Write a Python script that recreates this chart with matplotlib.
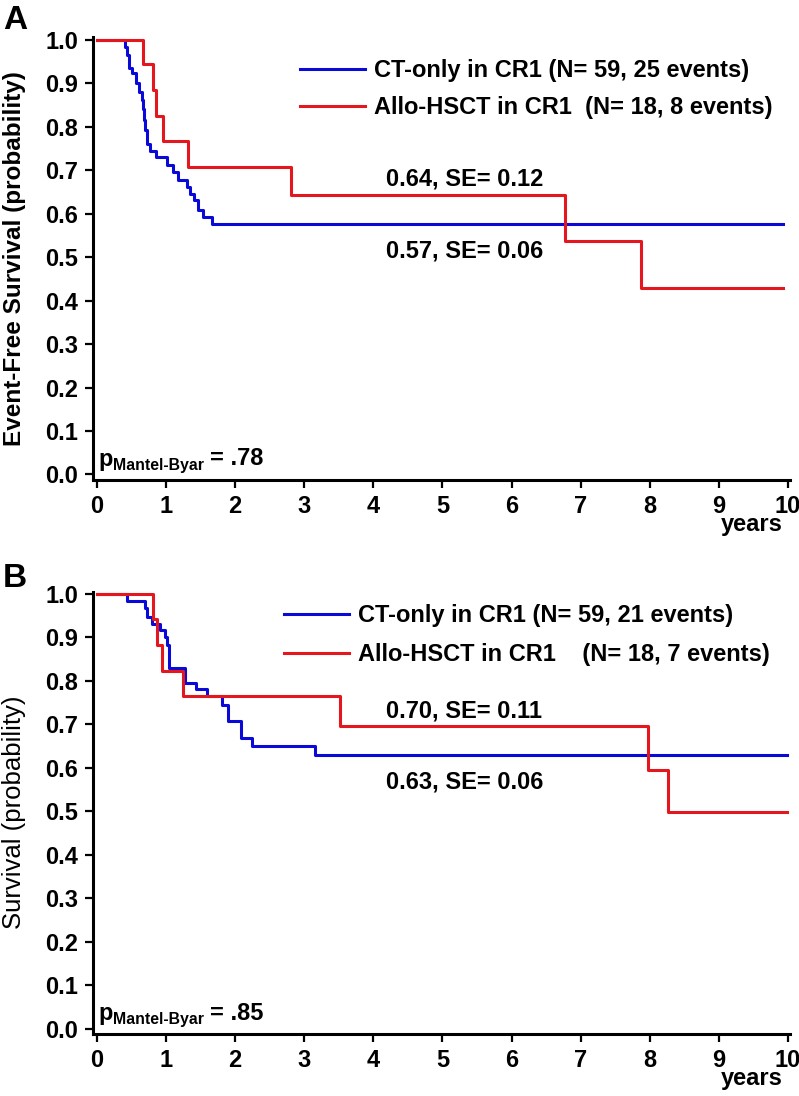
import numpy as np
import matplotlib
matplotlib.use('Agg')
import matplotlib.pyplot as plt

plt.rcParams['font.family'] = ['Liberation Sans', 'DejaVu Sans']

BLUE = '#0a0ad8'
RED = '#e3171d'

# Panel A: event-free survival
a_ct_t = [0.40, 0.43, 0.47, 0.50, 0.565, 0.61, 0.645, 0.665, 0.685, 0.70, 0.73,
          0.77, 0.86, 1.02, 1.10, 1.17, 1.30, 1.34, 1.40, 1.46, 1.54, 1.67]
a_ct_s = [0.983, 0.964, 0.934, 0.922, 0.90, 0.88, 0.862, 0.84, 0.815, 0.792, 0.761,
          0.744, 0.729, 0.711, 0.696, 0.677, 0.662, 0.646, 0.631, 0.608, 0.593, 0.575]
a_allo_t = [0.66, 0.81, 0.85, 0.95, 1.32, 2.81, 6.78, 7.87]
a_allo_s = [0.943, 0.885, 0.825, 0.767, 0.708, 0.643, 0.536, 0.429]
a_end = 9.93

# Panel B: overall survival
b_ct_t = [0.43, 0.695, 0.73, 0.79, 0.91, 0.98, 1.02, 1.045, 1.27, 1.44, 1.59,
          1.81, 1.89, 2.09, 2.24, 3.15]
b_ct_s = [0.983, 0.966, 0.947, 0.930, 0.917, 0.90, 0.882, 0.83, 0.795, 0.78, 0.764,
          0.744, 0.708, 0.668, 0.65, 0.629]
b_allo_t = [0.81, 0.87, 0.94, 1.24, 3.52, 7.98, 8.27]
b_allo_s = [0.942, 0.882, 0.822, 0.765, 0.695, 0.595, 0.497]
b_end = 9.99

panels = [
    dict(letter='A', ylabel='Event-Free Survival (probability)', ylabel_weight='bold',
         ylabel_size=17.5,
         ct=(a_ct_t, a_ct_s), allo=(a_allo_t, a_allo_s), end=a_end,
         ct_label='CT-only in CR1 (N= 59, 25 events)',
         allo_label='Allo-HSCT in CR1  (N= 18, 8 events)',
         ann=[(4.18, 0.679, '0.64, SE= 0.12'), (4.18, 0.514, '0.57, SE= 0.06')],
         p='= .78', leg=(0.297, 0.950), spacing=0.58, bottom=0.5623, let_y=0.981),
    dict(letter='B', ylabel='Survival (probability)', ylabel_weight='normal',
         ylabel_size=18.5,
         ct=(b_ct_t, b_ct_s), allo=(b_allo_t, b_allo_s), end=b_end,
         ct_label='CT-only in CR1 (N= 59, 21 events)',
         allo_label='Allo-HSCT in CR1    (N= 18, 7 events)',
         ann=[(4.19, 0.730, '0.70, SE= 0.11'), (4.19, 0.568, '0.63, SE= 0.06')],
         p='= .85', leg=(0.274, 0.971), spacing=0.68, bottom=0.0567, let_y=0.4726),
]

fig = plt.figure(figsize=(7.99, 10.96), dpi=100)

for pn in panels:
    ax = fig.add_axes([0.1166, pn['bottom'], 0.8722, 0.4036])
    for (t, s), col, lab in [(pn['ct'], BLUE, pn['ct_label']),
                             (pn['allo'], RED, pn['allo_label'])]:
        xs = np.concatenate([[0], t, [pn['end']]])
        ys = np.concatenate([[1.0], s, [s[-1]]])
        ax.step(xs, ys, where='post', color=col, lw=2.2, label=lab)

    ax.set_xlim(-0.055, 10.03)
    ax.set_ylim(-0.012, 1.005)
    ax.set_xticks(range(0, 11))
    ax.set_yticks(np.arange(0, 1.01, 0.1))
    ax.set_yticklabels(['%.1f' % v for v in np.arange(0, 1.01, 0.1)])
    for sp in ['top', 'right']:
        ax.spines[sp].set_visible(False)
    for sp in ['left', 'bottom']:
        ax.spines[sp].set_linewidth(2.2)
    ax.tick_params(axis='both', direction='out', length=6, width=1.6, labelsize=17, pad=5)
    for lbl in ax.get_xticklabels() + ax.get_yticklabels():
        lbl.set_fontweight('bold')

    ax.set_ylabel(pn['ylabel'], fontsize=pn['ylabel_size'], fontweight=pn['ylabel_weight'])
    ax.yaxis.set_label_coords(-0.097, 0.5)
    ax.text(0.99, -0.102, 'years', transform=ax.transAxes, ha='right', va='center',
            fontsize=17, fontweight='bold')

    ax.legend(loc='upper left', bbox_to_anchor=pn['leg'], frameon=False,
              borderpad=0, borderaxespad=0, handlelength=2.75, handletextpad=0.38,
              labelspacing=pn['spacing'], prop={'size': 17, 'weight': 'bold'})

    for x, y, s in pn['ann']:
        ax.text(x, y, s, ha='left', va='center', fontsize=17, fontweight='bold')

    t1 = ax.text(0.007, 0.031, 'p', transform=ax.transAxes, fontsize=17,
                 fontweight='bold', va='baseline')
    t2 = ax.annotate('Mantel-Byar', xy=(1, 0), xycoords=t1, xytext=(0.5, 0.6),
                     textcoords='offset points', fontsize=11.4, fontweight='bold',
                     va='baseline')
    ax.annotate(pn['p'], xy=(1, 0), xycoords=t2, xytext=(4, 5.6),
                textcoords='offset points', fontsize=17, fontweight='bold',
                va='baseline')

    fig.text(0.004, pn['let_y'], pn['letter'], fontsize=24, fontweight='bold',
             va='center', ha='left')

fig.savefig('out.png', dpi=100)
